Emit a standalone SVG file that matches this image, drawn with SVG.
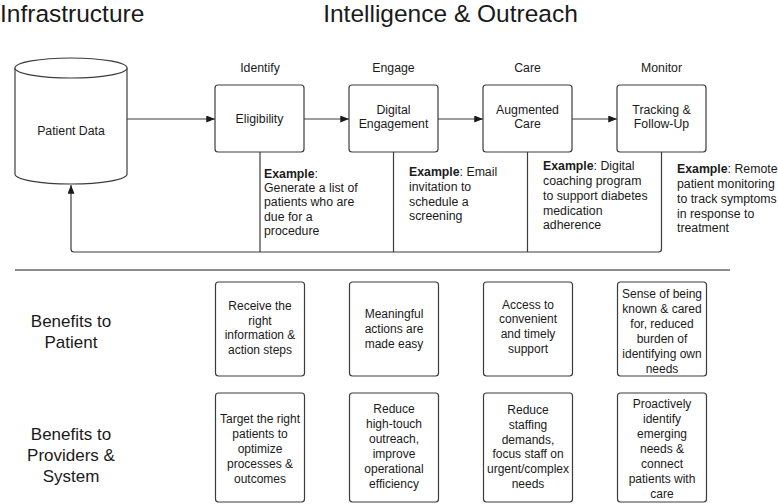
<svg xmlns="http://www.w3.org/2000/svg" width="778" height="504" viewBox="0 0 778 504">
<style>
text{font-family:"Liberation Sans",Arial,sans-serif;fill:#1a1a1a}
.t{font-size:24.5px}
.s{font-size:12.3px;text-anchor:middle}
.e{font-size:12.3px}
.b{font-size:12px;text-anchor:middle}
.side{font-size:17px;text-anchor:middle}
.box{fill:#fff;stroke:#3c3c3c;stroke-width:1.2}
.ln{fill:none;stroke:#3c3c3c;stroke-width:1.2}
</style>
<defs>
<marker id="ah" viewBox="0 0 10 8" refX="10" refY="4" markerWidth="9" markerHeight="7" markerUnits="userSpaceOnUse" orient="auto">
<path d="M0,0 L10,4 L0,8 Z" fill="#1a1a1a"/>
</marker>
</defs>
<rect width="778" height="504" fill="#fff"/>
<text class="t" x="0" y="21.5">Infrastructure</text>
<text class="t" x="450.5" y="21.5" text-anchor="middle">Intelligence &amp; Outreach</text>

<g id="connectors">
<line class="ln" x1="127" y1="119" x2="215" y2="119" marker-end="url(#ah)"/>
<line class="ln" x1="304" y1="119" x2="349" y2="119" marker-end="url(#ah)"/>
<line class="ln" x1="438" y1="119" x2="483" y2="119" marker-end="url(#ah)"/>
<line class="ln" x1="572" y1="119" x2="617" y2="119" marker-end="url(#ah)"/>
<line class="ln" x1="260" y1="152" x2="260" y2="252"/>
<line class="ln" x1="393.5" y1="152" x2="393.5" y2="252"/>
<line class="ln" x1="527.5" y1="152" x2="527.5" y2="252"/>
<path class="ln" d="M661.5,152 L661.5,249 Q661.5,252 658.5,252 L74,252 Q71,252 71,249 L71,185" marker-end="url(#ah)"/>
<line x1="15" y1="270" x2="730" y2="270" stroke="#666" stroke-width="1.5"/>
</g>

<g id="patient-data">
<path class="box" d="M15,68 L15,174 A56,10 0 0 0 127,174 L127,68"/>
<ellipse class="box" cx="71" cy="68" rx="56" ry="10"/>
<text class="s" x="71" y="135">Patient Data</text>
</g>

<g id="identify">
<text class="s" x="260" y="71.5">Identify</text>
<rect class="box" x="215" y="85" width="89" height="67" rx="3"/>
<text class="s" x="259.5" y="122.8">Eligibility</text>
</g>
<g id="engage">
<text class="s" x="393.5" y="71.5">Engage</text>
<rect class="box" x="349" y="85" width="89" height="67" rx="3"/>
<text class="s" x="393.5" y="113.5">Digital</text>
<text class="s" x="393.5" y="127.8">Engagement</text>
</g>
<g id="care">
<text class="s" x="527.5" y="71.5">Care</text>
<rect class="box" x="483" y="85" width="89" height="67" rx="3"/>
<text class="s" x="527.5" y="113.5">Augmented</text>
<text class="s" x="527.5" y="127.8">Care</text>
</g>
<g id="monitor">
<text class="s" x="661.5" y="71.5">Monitor</text>
<rect class="box" x="617" y="85" width="89" height="67" rx="3"/>
<text class="s" x="661.5" y="113.5">Tracking &amp;</text>
<text class="s" x="661.5" y="127.8">Follow-Up</text>
</g>

<g id="example-identify">
<text class="e" x="264" y="177.6"><tspan font-weight="bold">Example</tspan>:</text>
<text class="e" x="264" y="192">Generate a list of</text>
<text class="e" x="264" y="206.4">patients who are</text>
<text class="e" x="264" y="220.9">due for a</text>
<text class="e" x="264" y="235.4">procedure</text>
</g>
<g id="example-engage">
<text class="e" x="409" y="176"><tspan font-weight="bold">Example</tspan>: Email</text>
<text class="e" x="409" y="190.8">invitation to</text>
<text class="e" x="409" y="205.6">schedule a</text>
<text class="e" x="409" y="220.3">screening</text>
</g>
<g id="example-care">
<text class="e" x="543" y="170.3"><tspan font-weight="bold">Example</tspan>: Digital</text>
<text class="e" x="543" y="185">coaching program</text>
<text class="e" x="543" y="199.8">to support diabetes</text>
<text class="e" x="543" y="214.6">medication</text>
<text class="e" x="543" y="229.3">adherence</text>
</g>
<g id="example-monitor">
<text class="e" x="677" y="173.3"><tspan font-weight="bold">Example</tspan>: Remote</text>
<text class="e" x="677" y="188">patient monitoring</text>
<text class="e" x="677" y="202.8">to track symptoms</text>
<text class="e" x="677" y="217.6">in response to</text>
<text class="e" x="677" y="232.3">treatment</text>
</g>

<g id="label-patient">
<text class="side" x="71" y="326.5">Benefits to</text>
<text class="side" x="71" y="347.5">Patient</text>
</g>
<g id="label-providers">
<text class="side" x="71" y="440">Benefits to</text>
<text class="side" x="71" y="461">Providers &amp;</text>
<text class="side" x="71" y="481.5">System</text>
</g>

<g id="patient-identify">
<rect class="box" x="215.5" y="282" width="89" height="94" rx="3"/>
<text class="b" x="260" y="310">Receive the</text>
<text class="b" x="260" y="324.7">right</text>
<text class="b" x="260" y="339.4">information &amp;</text>
<text class="b" x="260" y="354.1">action steps</text>
</g>
<g id="patient-engage">
<rect class="box" x="349.5" y="282" width="89" height="94" rx="3"/>
<text class="b" x="394" y="317.5">Meaningful</text>
<text class="b" x="394" y="332.5">actions are</text>
<text class="b" x="394" y="347.5">made easy</text>
</g>
<g id="patient-care">
<rect class="box" x="483.5" y="282" width="89" height="94" rx="3"/>
<text class="b" x="528" y="308.5">Access to</text>
<text class="b" x="528" y="323.3">convenient</text>
<text class="b" x="528" y="338.1">and timely</text>
<text class="b" x="528" y="352.9">support</text>
</g>
<g id="patient-monitor">
<rect class="box" x="617.5" y="282" width="89" height="94" rx="3"/>
<text class="b" x="662" y="298.2">Sense of being</text>
<text class="b" x="662" y="313.2">known &amp; cared</text>
<text class="b" x="662" y="328.2">for, reduced</text>
<text class="b" x="662" y="343.2">burden of</text>
<text class="b" x="662" y="358.2">identifying own</text>
<text class="b" x="662" y="373.2">needs</text>
</g>

<g id="provider-identify">
<rect class="box" x="215.5" y="393" width="89" height="109" rx="3"/>
<text class="b" x="260" y="422.5">Target the right</text>
<text class="b" x="260" y="437.5">patients to</text>
<text class="b" x="260" y="452.5">optimize</text>
<text class="b" x="260" y="467.5">processes &amp;</text>
<text class="b" x="260" y="482.5">outcomes</text>
</g>
<g id="provider-engage">
<rect class="box" x="349.5" y="393" width="89" height="109" rx="3"/>
<text class="b" x="394" y="413.2">Reduce</text>
<text class="b" x="394" y="428.1">high-touch</text>
<text class="b" x="394" y="443">outreach,</text>
<text class="b" x="394" y="457.8">improve</text>
<text class="b" x="394" y="472.7">operational</text>
<text class="b" x="394" y="487.5">efficiency</text>
</g>
<g id="provider-care">
<rect class="box" x="483.5" y="393" width="89" height="109" rx="3"/>
<text class="b" x="528" y="414.2">Reduce</text>
<text class="b" x="528" y="428.9">staffing</text>
<text class="b" x="528" y="443.6">demands,</text>
<text class="b" x="528" y="458.2">focus staff on</text>
<text class="b" x="528" y="472.9">urgent/complex</text>
<text class="b" x="528" y="487.5">needs</text>
</g>
<g id="provider-monitor">
<rect class="box" x="617.5" y="393" width="89" height="109" rx="3"/>
<text class="b" x="662" y="408.2">Proactively</text>
<text class="b" x="662" y="423.1">identify</text>
<text class="b" x="662" y="438">emerging</text>
<text class="b" x="662" y="452.9">needs &amp;</text>
<text class="b" x="662" y="467.8">connect</text>
<text class="b" x="662" y="482.7">patients with</text>
<text class="b" x="662" y="497.6">care</text>
</g>
</svg>
